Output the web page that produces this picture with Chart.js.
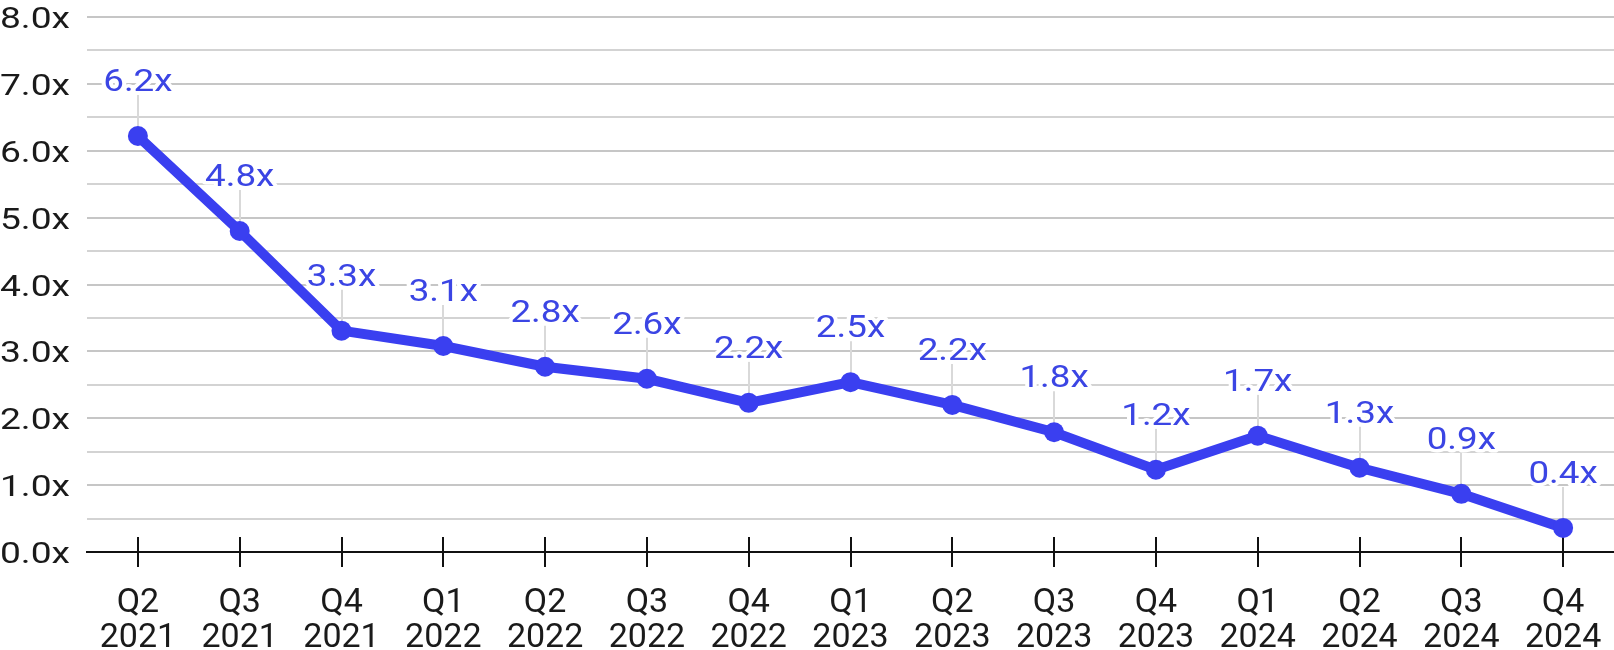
<!DOCTYPE html>
<html>
<head>
<meta charset="utf-8">
<title>Quarterly multiple</title>
<script src="https://cdn.jsdelivr.net/npm/chart.js@4.4.1/dist/chart.umd.min.js"></script>
<style>
  html, body { margin: 0; padding: 0; background: #fff; }
  #wrap { width: 1614px; height: 650px; }
</style>
</head>
<body>
<div id="wrap"><canvas id="chart" width="1614" height="650"></canvas></div>
<script>
// Data
var quarters = ['Q2', 'Q3', 'Q4', 'Q1', 'Q2', 'Q3', 'Q4', 'Q1', 'Q2', 'Q3', 'Q4', 'Q1', 'Q2', 'Q3', 'Q4'];
var years = ['2021', '2021', '2021', '2022', '2022', '2022', '2022', '2023', '2023', '2023', '2023', '2024', '2024', '2024', '2024'];
var multiples = [6.22, 4.8, 3.31, 3.08, 2.77, 2.59, 2.23, 2.54, 2.2, 1.79, 1.23, 1.74, 1.26, 0.87, 0.36];
var yMin = 0, yMax = 8, yStep = 0.5;

var BLUE = '#3a3ff0';
var LABEL_BLUE = '#3b45e4';
var INK = '#1a1a1a';

(function () {
  function fmt(v) { return v.toFixed(1) + 'x'; }

  // Draw text a bit wider than the font, like the reference
  function wideText(ctx, text, x, y, stretch, align, halo) {
    ctx.save();
    ctx.translate(x, y);
    ctx.scale(stretch, 1);
    ctx.textAlign = align;
    ctx.textBaseline = 'alphabetic';
    if (halo) {
      ctx.lineJoin = 'round';
      ctx.lineWidth = 7;
      ctx.strokeStyle = '#fff';
      ctx.strokeText(text, 0, 0);
    }
    ctx.fillText(text, 0, 0);
    ctx.restore();
  }

  // y labels, x tick marks crossing the axis, leader lines and value labels
  var decorations = {
    id: 'decorations',
    beforeDatasetsDraw: function (chart) {
      var ctx = chart.ctx;
      var x = chart.scales.x, y = chart.scales.y;
      var meta = chart.getDatasetMeta(0);
      var y0 = y.getPixelForValue(0);
      ctx.save();
      // x tick marks crossing the axis
      ctx.strokeStyle = '#111';
      ctx.lineWidth = 2;
      x.ticks.forEach(function (t, i) {
        var px = Math.round(x.getPixelForTick(i));
        ctx.beginPath();
        ctx.moveTo(px, y0 - 15);
        ctx.lineTo(px, y0 + 15);
        ctx.stroke();
      });
      // leader lines from point to label
      ctx.strokeStyle = '#d9d9d9';
      ctx.lineWidth = 2;
      meta.data.forEach(function (pt) {
        ctx.beginPath();
        ctx.moveTo(Math.round(pt.x), pt.y - 41);
        ctx.lineTo(Math.round(pt.x), pt.y);
        ctx.stroke();
      });
      ctx.restore();
    },
    afterDraw: function (chart) {
      var ctx = chart.ctx;
      var y = chart.scales.y;
      var meta = chart.getDatasetMeta(0);
      ctx.save();
      ctx.font = '30px Roboto';
      ctx.fillStyle = INK;
      y.ticks.forEach(function (t) {
        if (t.value % 1 !== 0) return;
        wideText(ctx, fmt(t.value), 70, y.getPixelForValue(t.value) + 11, 1.24, 'right', false);
      });
      ctx.font = '32px Roboto';
      ctx.fillStyle = LABEL_BLUE;
      meta.data.forEach(function (pt, i) {
        wideText(ctx, fmt(multiples[i]), pt.x, pt.y - 45, 1.15, 'center', true);
      });
      ctx.restore();
    }
  };

  function init() {
    var labels = quarters.map(function (q, i) { return [q, years[i]]; });
    var canvas = document.getElementById('chart');

    new Chart(canvas, {
      type: 'line',
      data: {
        labels: labels,
        datasets: [{
          data: multiples,
          borderColor: BLUE,
          backgroundColor: BLUE,
          borderWidth: 10,
          tension: 0,
          pointRadius: 10,
          pointBorderWidth: 0,
          pointBackgroundColor: BLUE,
          fill: false
        }]
      },
      options: {
        responsive: false,
        animation: false,
        events: [],
        layout: { autoPadding: false, padding: { top: 17, right: 0, left: 0, bottom: 0 } },
        plugins: {
          legend: { display: false },
          tooltip: { enabled: false }
        },
        scales: {
          x: {
            offset: true,
            afterFit: function (s) { s.height = 98; },
            border: { display: true, color: '#111', width: 2 },
            grid: {
              offset: false,
              drawOnChartArea: false,
              drawTicks: true,
              tickLength: 34,
              color: 'rgba(0,0,0,0)'
            },
            ticks: {
              color: INK,
              font: { family: 'Roboto', size: 34, lineHeight: 1.03 },
              padding: 0,
              maxRotation: 0,
              autoSkip: false
            }
          },
          y: {
            min: yMin,
            max: yMax,
            afterFit: function (s) { s.width = 87; },
            border: { display: false },
            grid: {
              drawTicks: false,
              lineWidth: 2,
              color: function (c) {
                var v = c.tick.value;
                if (v === 0) return 'rgba(0,0,0,0)';
                return v % 1 === 0 ? '#c6c6c6' : '#d3d3d3';
              }
            },
            ticks: { display: false, stepSize: yStep }
          }
        }
      },
      plugins: [decorations]
    });
  }

  if (document.readyState === 'loading') {
    document.addEventListener('DOMContentLoaded', init);
  } else {
    init();
  }
})();
</script>
</body>
</html>
